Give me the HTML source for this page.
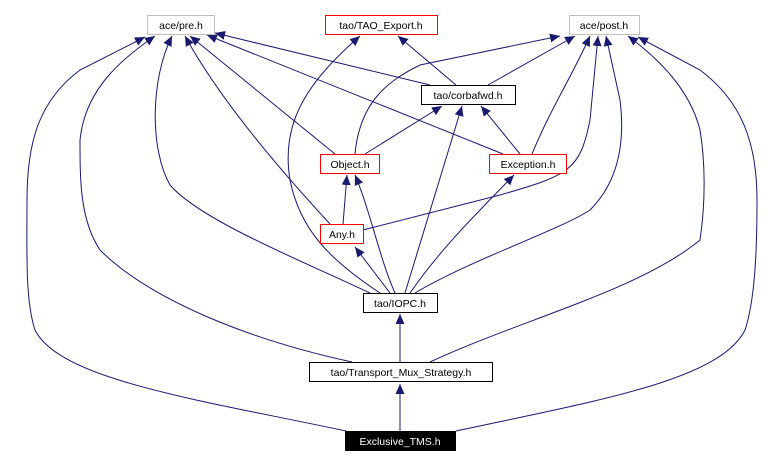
<!DOCTYPE html>
<html><head><meta charset="utf-8"><style>
body{margin:0;background:#fff}
svg{display:block}
text{font-family:"Liberation Sans",sans-serif;font-size:10.5px;text-anchor:middle}
</style></head><body>
<svg width="780" height="465" viewBox="0 0 780 465" xmlns="http://www.w3.org/2000/svg">
<defs><marker id="a" viewBox="0 0 10 10" refX="10" refY="5" markerWidth="10" markerHeight="10" markerUnits="userSpaceOnUse" orient="auto"><path d="M0,0.5 L10,5 L0,9.5 z" fill="#191970"/></marker></defs>
<g fill="none" stroke="#191970" stroke-width="1" marker-end="url(#a)">
<path d="M346,431 C200,400 60,380 35,330 C25,300 27,250 27,200 C27,140 40,100 80,70 L145,37"/>
<path d="M456,431 C600,400 720,380 745,330 C755,300 757,250 757,200 C757,140 740,100 700,70 L638,37"/>
<path d="M352,362 C250,340 150,300 100,250 C80,220 80,180 80,140 C85,90 120,60 155,36"/>
<path d="M430,362 C520,320 640,290 700,240 C706,200 705,160 700,130 C690,90 660,60 628,36"/>
<path d="M370,293 C300,260 200,220 170,185 C150,150 150,80 172,36"/>
<path d="M415,293 C470,260 560,230 590,210 C620,180 625,140 620,100 L606,36"/>
<path d="M380,293 C330,260 300,230 290,180 C280,120 310,80 360,36"/>
<path d="M405,293 L462,106"/>
<path d="M395,293 C380,260 370,210 355,175"/>
<path d="M390,293 L355,247"/>
<path d="M410,293 C440,250 470,220 514,175"/>
<path d="M330,224 C280,170 220,100 185,36"/>
<path d="M343,224 L347,175"/>
<path d="M363,230 L500,195 C570,175 580,170 590,120 L598,36"/>
<path d="M335,154 L190,36"/>
<path d="M365,154 L442,106"/>
<path d="M355,154 C360,100 390,80 420,65 L560,36"/>
<path d="M503,154 L207,35"/>
<path d="M520,154 L481,106"/>
<path d="M532,154 C550,110 570,80 590,36"/>
<path d="M430,85 L215,33"/>
<path d="M456,85 L398,36"/>
<path d="M488,85 L575,36"/>
<path d="M400,362 L400,314"/>
<path d="M400,431 L400,384"/>
</g>
<g stroke-width="1">
<rect x="147.5" y="15.5" width="67" height="19" fill="#fff" stroke="#bfbfbf"/><text x="181" y="29">ace/pre.h</text>
<rect x="325.5" y="15.5" width="112" height="19" fill="#fff" stroke="#ff0000"/><text x="381" y="29">tao/TAO_Export.h</text>
<rect x="569.5" y="15.5" width="70" height="19" fill="#fff" stroke="#bfbfbf"/><text x="604" y="29">ace/post.h</text>
<rect x="421.5" y="85.5" width="94" height="19" fill="#fff" stroke="#000"/><text x="468" y="99">tao/corbafwd.h</text>
<rect x="320.5" y="154.5" width="59" height="19" fill="#fff" stroke="#ff0000"/><text x="350" y="168">Object.h</text>
<rect x="489.5" y="154.5" width="77" height="19" fill="#fff" stroke="#ff0000"/><text x="528" y="168">Exception.h</text>
<rect x="320.5" y="224.5" width="43" height="19" fill="#fff" stroke="#ff0000"/><text x="342" y="238">Any.h</text>
<rect x="363.5" y="293.5" width="74" height="19" fill="#fff" stroke="#000"/><text x="400" y="307">tao/IOPC.h</text>
<rect x="309.5" y="362.5" width="183" height="19" fill="#fff" stroke="#000"/><text x="401" y="376">tao/Transport_Mux_Strategy.h</text>
<rect x="345" y="431" width="111" height="20" fill="#000"/><text x="400" y="445" fill="#fff">Exclusive_TMS.h</text>
</g>
</svg>
</body></html>
